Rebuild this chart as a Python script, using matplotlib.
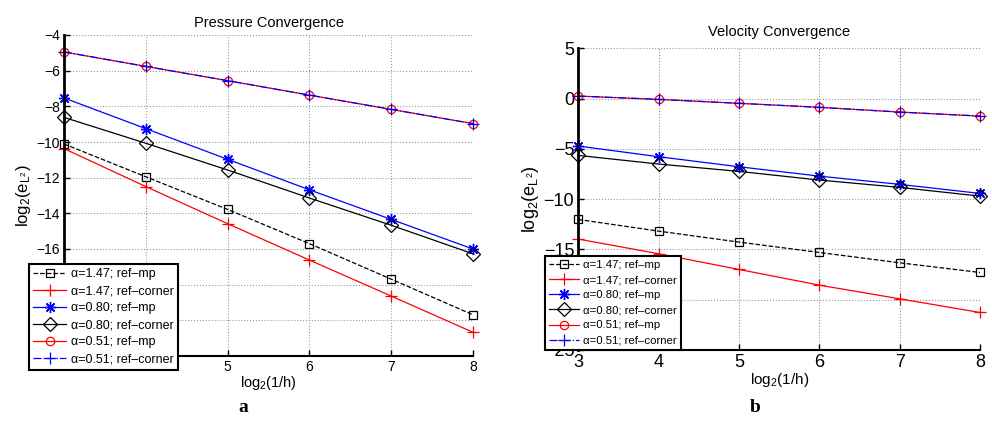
import matplotlib
matplotlib.use("Agg")
import matplotlib.pyplot as plt

plt.rcParams['font.family'] = ['Liberation Sans', 'DejaVu Sans']
plt.rcParams['mathtext.fontset'] = 'custom'
plt.rcParams['mathtext.rm'] = 'Liberation Sans'
plt.rcParams['mathtext.it'] = 'Liberation Sans:italic'

x = [3, 4, 5, 6, 7, 8]

# Pressure convergence values (log2 of L2 error)
p_147_mp = [-10.11, -11.95, -13.78, -15.70, -17.69, -19.69]
p_147_corner = [-10.37, -12.50, -14.58, -16.62, -18.64, -20.67]
p_080_mp = [-7.53, -9.25, -10.97, -12.68, -14.34, -16.00]
p_080_corner = [-8.62, -10.07, -11.57, -13.14, -14.67, -16.27]
p_051_mp = [-4.95, -5.76, -6.56, -7.37, -8.17, -8.97]
p_051_corner = [-4.95, -5.76, -6.56, -7.37, -8.17, -8.97]

# Velocity convergence values
v_147_mp = [-12.02, -13.18, -14.27, -15.30, -16.33, -17.29]
v_147_corner = [-13.97, -15.43, -16.99, -18.55, -19.91, -21.27]
v_080_mp = [-4.72, -5.78, -6.78, -7.71, -8.53, -9.43]
v_080_corner = [-5.65, -6.51, -7.24, -8.10, -8.83, -9.70]
v_051_mp = [0.25, -0.08, -0.47, -0.87, -1.34, -1.74]
v_051_corner = [0.25, -0.08, -0.47, -0.87, -1.34, -1.74]

labels = ['α=1.47; ref–mp', 'α=1.47; ref–corner', 'α=0.80; ref–mp',
          'α=0.80; ref–corner', 'α=0.51; ref–mp', 'α=0.51; ref–corner']

p_yticks = [-22, -20, -18, -16, -14, -12, -10, -8, -6, -4]
v_yticks = [-25, -20, -15, -10, -5, 0, 5]

fig = plt.figure(figsize=(9.92, 4.21), dpi=100)
ax1 = fig.add_axes([64/992, 1-356/421, (473-64)/992, (356-35)/421])
ax2 = fig.add_axes([578.3/992, 1-350/421, (980-578.3)/992, (350-48.3)/421])

ASTERISK = (8, 2, 0)


def draw(ax, series, lw=0.9):
    styles = [
        dict(color='black', ls='--', marker='s', ms=6, mfc='none', mew=0.9),
        dict(color='red', ls='-', marker='+', ms=9, mew=0.9),
        dict(color='blue', ls='-', marker=ASTERISK, ms=8, mew=1.0),
        dict(color='black', ls='-', marker='D', ms=7, mfc='none', mew=0.9),
        dict(color='red', ls='-', marker='o', ms=6, mfc='none', mew=0.9),
        dict(color='blue', ls='-.', marker='+', ms=9, mew=0.9),
    ]
    handles = []
    for s, lab, st in zip(series, labels, styles):
        h, = ax.plot(x, s, lw=lw, label=lab, clip_on=False, **st)
        handles.append(h)
    return handles


h1 = draw(ax1, [p_147_mp, p_147_corner, p_080_mp, p_080_corner, p_051_mp, p_051_corner])
h2 = draw(ax2, [v_147_mp, v_147_corner, v_080_mp, v_080_corner, v_051_mp, v_051_corner])

for ax, yl, yt, fs, xfs in [(ax1, (-22, -4), p_yticks, 10, 10.5), (ax2, (-25, 5), v_yticks, 13, 11)]:
    ax.set_xlim(3, 8)
    ax.set_ylim(*yl)
    ax.set_xticks(x)
    ax.set_yticks(yt)
    ax.grid(True, ls=':', color='#999999', lw=0.8)
    for sp in ['top', 'right']:
        ax.spines[sp].set_visible(False)
    ax.spines['left'].set_linewidth(2.0)
    ax.spines['bottom'].set_linewidth(1.5)
    ax.tick_params(direction='in', length=4, width=1, labelsize=fs, pad=3)
    ax.set_xlabel(r'$\mathregular{log_2(1/h)}$', fontsize=xfs, labelpad=0)

# tick labels that sit behind the legend box in the original are not shown
fig.canvas.draw()
for lab in ax1.get_xticklabels():
    if lab.get_text() in ('3', '4'):
        lab.set_visible(False)
for lab in ax1.get_yticklabels():
    if lab.get_text().replace('\u2212', '-') in ('-18', '-20', '-22'):
        lab.set_visible(False)
for lab in ax2.get_yticklabels():
    if lab.get_text().replace('\u2212', '-') in ('-20',):
        lab.set_visible(False)

ax1.set_ylabel(r'$\mathregular{log_2(e_{L^2})}$', fontsize=12, labelpad=2)
ax2.set_ylabel(r'$\mathregular{log_2(e_{L^2})}$', fontsize=13, labelpad=2)
ax1.set_title('Pressure Convergence', fontsize=10.5, pad=6)
ax2.set_title('Velocity Convergence', fontsize=10.5, pad=9)

leg1 = fig.legend(handles=h1, loc='upper left', bbox_to_anchor=(29/992, 1-264/421),
                  bbox_transform=fig.transFigure, fontsize=9.0, handlelength=2.6,
                  labelspacing=0.4, borderpad=0.35, handletextpad=0.4,
                  fancybox=False, framealpha=1, edgecolor='black', borderaxespad=0)
leg1.get_frame().set_linewidth(1.5)
leg2 = fig.legend(handles=h2, loc='upper left', bbox_to_anchor=(545/992, 1-256/421),
                  bbox_transform=fig.transFigure, fontsize=8.2, handlelength=2.6,
                  labelspacing=0.45, borderpad=0.35, handletextpad=0.4,
                  fancybox=False, framealpha=1, edgecolor='black', borderaxespad=0)
leg2.get_frame().set_linewidth(1.5)

fig.text(243/992, 1-408/421, 'a', family='Liberation Serif', weight='bold',
         fontsize=14, ha='center', va='center')
fig.text(755/992, 1-408/421, 'b', family='Liberation Serif', weight='bold',
         fontsize=14, ha='center', va='center')

fig.savefig('out.png', dpi=100)
